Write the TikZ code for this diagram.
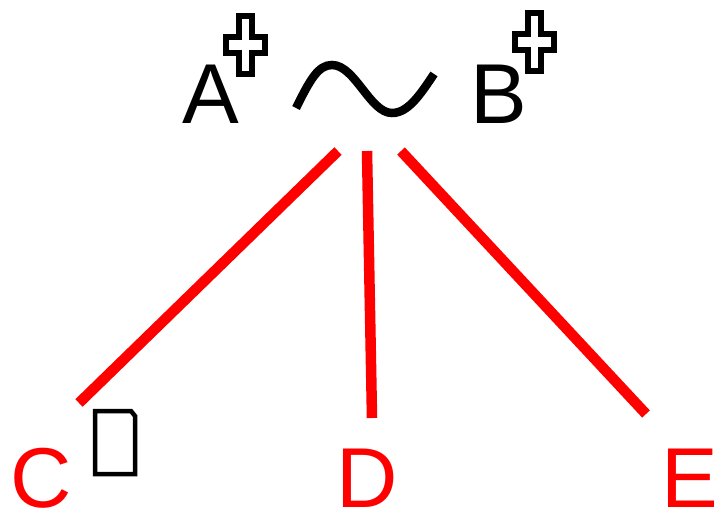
\documentclass[tikz,border=0pt]{standalone}
\usepackage{fontspec}
\setmainfont{Liberation Sans}
\newcommand{\plussign}[1]{%
  \draw[cross, shift={#1}]
    (-6.5,-29) -- (6.5,-29) -- (6.5,-8) -- (19.5,-8) -- (19.5,8) -- (6.5,8)
    -- (6.5,29) -- (-6.5,29) -- (-6.5,8) -- (-19.5,8) -- (-19.5,-8) -- (-6.5,-8) -- cycle;}
\begin{document}
\begin{tikzpicture}[x=1pt, y=-1pt]
  \tikzstyle{letter}=[inner sep=0pt, anchor=base, font=\fontsize{85}{100}\selectfont]
  \tikzstyle{leaf}=[letter, text=red]
  \tikzstyle{branch}=[draw=red, line width=10.5pt]
  \tikzstyle{cross}=[draw=black, line width=6.5pt, fill=white]

  \useasboundingbox (0,0) rectangle (728,514);

  \node[letter] (A) at (210.5, 123) {A};
  \node[letter] (B) at (498.5, 123) {B};
  \node[leaf]   (C) at (41.5,  507) {C};
  \node[leaf]   (D) at (367,   507) {D};
  \node[leaf]   (E) at (690,   507) {E};

  \plussign{(245.5,45)}
  \plussign{(534.5,42)}

  % tilde between A and B
  \draw[line width=8.5pt] (296,108) .. controls (310,80) and (318,65) .. (332,65)
    .. controls (355,65) and (370,113) .. (392,113)
    .. controls (408,113) and (420,95) .. (434,74);

  % missing glyph box after C
  \draw[line width=4.5pt] (95,411) -- (131,411) -- (135,416) -- (135,474) -- (95,474) -- cycle;

  \coordinate (topC) at (338,151);
  \coordinate (topD) at (367,151);
  \coordinate (topE) at (401,151);
  \coordinate (endC) at (79,403);
  \coordinate (endD) at (372,418);
  \coordinate (endE) at (646,414);

  \path (topC) edge[branch] (endC);
  \path (topD) edge[branch] (endD);
  \path (topE) edge[branch] (endE);
\end{tikzpicture}
\end{document}
